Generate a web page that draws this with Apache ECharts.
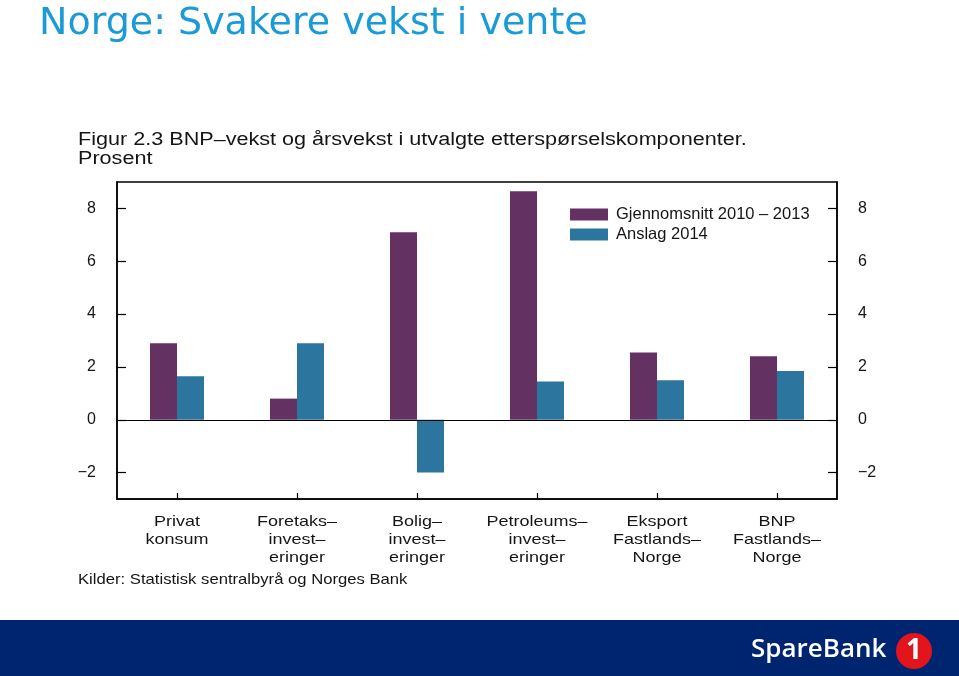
<!DOCTYPE html>
<html>
<head>
<meta charset="utf-8">
<script src="https://cdn.jsdelivr.net/npm/echarts@6/dist/echarts.min.js"></script>
<style>html,body{margin:0;padding:0;background:#fff}#c{width:959px;height:676px}</style>
</head>
<body>
<div id="c"></div>
<script>
const categories = ['Privat\nkonsum', 'Foretaks–\ninvest–\neringer', 'Bolig–\ninvest–\neringer', 'Petroleums–\ninvest–\neringer', 'Eksport\nFastlands–\nNorge', 'BNP\nFastlands–\nNorge'];
const seriesNames = ['Gjennomsnitt 2010 – 2013', 'Anslag 2014'];
const avg2010_2013 = [2.9, 0.8, 7.1, 8.65, 2.55, 2.4];
const forecast2014 = [1.65, 2.9, -2.0, 1.45, 1.5, 1.85];
const yTicks = [-2, 0, 2, 4, 6, 8];

const chart = echarts.init(document.getElementById('c'));
const fmt = v => (v < 0 ? '−' + Math.abs(v) : String(v));
const FONT = '"Liberation Sans", Arial, sans-serif';
const TXT = '#151515';
const yAxisCommon = {
  type: 'value', min: -3, max: 9,
  splitLine: { show: false },
  axisLine: { show: true, lineStyle: { color: '#000', width: 1.5 } },
  axisTick: { show: true, inside: true, length: 9, customValues: yTicks, lineStyle: { color: '#000', width: 1.2 } },
  axisLabel: { customValues: yTicks, formatter: fmt, fontFamily: FONT, fontSize: 16, color: TXT, margin: 21 }
};
chart.setOption({
  animation: false,
  legend: {
    data: seriesNames, orient: 'vertical', left: 570, top: 206, padding: 0,
    itemWidth: 38, itemHeight: 12, itemGap: 3, icon: 'rect',
    textStyle: { fontFamily: FONT, fontSize: 16.5, color: TXT, padding: [0, 0, 0, 3] }
  },
  grid: { left: 117, right: 122, top: 182, bottom: 177, show: true, borderColor: '#000', borderWidth: 1.5, backgroundColor: 'transparent' },
  xAxis: {
    type: 'category', data: categories, position: 'bottom',
    axisLine: { show: true, onZero: false, lineStyle: { color: '#000', width: 1.5 } },
    axisTick: { show: true, inside: true, length: 6, alignWithLabel: true, lineStyle: { color: '#000', width: 1.2 } },
    axisLabel: { show: false }
  },
  yAxis: [
    Object.assign({}, yAxisCommon, { position: 'left' }),
    Object.assign({}, yAxisCommon, { position: 'right' })
  ],
  series: [
    { name: seriesNames[0], type: 'bar', data: avg2010_2013, barWidth: 27, barGap: '0%',
      itemStyle: { color: '#633262' },
      markLine: { silent: true, symbol: 'none', label: { show: false },
        lineStyle: { color: '#000', width: 1.2, type: 'solid' }, data: [{ yAxis: 0 }] } },
    { name: seriesNames[1], type: 'bar', data: forecast2014, barWidth: 27, barGap: '0%',
      itemStyle: { color: '#2c759f' } }
  ]
});

// category labels placed via the axis scale (stretched horizontally like the scanned figure)
const axisBottomY = chart.convertToPixel({ yAxisIndex: 0 }, -3);
const catLabels = categories.map((c, i) => ({
  type: 'text', x: chart.convertToPixel({ xAxisIndex: 0 }, i), y: axisBottomY + 14,
  scaleX: 1.2, originX: 0,
  style: { text: c, align: 'center', verticalAlign: 'top', font: '15px "Liberation Sans", Arial, sans-serif', lineHeight: 18, fill: TXT }
}));

chart.setOption({
  graphic: [
    { type: 'text', x: 39, y: 5, style: { text: 'Norge: Svakere vekst i vente', fill: '#1a9bd7', font: '38px "DejaVu Sans", Verdana, sans-serif', verticalAlign: 'top' } },
    { type: 'text', x: 78, y: 131, scaleX: 1.2, originX: 0,
      style: { text: 'Figur 2.3 BNP–vekst og årsvekst i utvalgte etterspørselskomponenter.\nProsent', fill: TXT, font: '18px "Liberation Sans", Arial, sans-serif', lineHeight: 19, verticalAlign: 'top' } },
    { type: 'text', x: 78, y: 572, scaleX: 1.11, originX: 0,
      style: { text: 'Kilder: Statistisk sentralbyrå og Norges Bank', fill: TXT, font: '15px "Liberation Sans", Arial, sans-serif', verticalAlign: 'top' } },
    ...catLabels,
    { type: 'rect', x: 0, y: 620, shape: { width: 959, height: 56 }, style: { fill: '#002570' }, z: 10 },
    { type: 'text', x: 751, y: 637, style: { text: 'SpareBank', fill: '#fff', font: '600 26px "Open Sans", sans-serif', verticalAlign: 'top' }, z: 11 },
    { type: 'circle', shape: { cx: 914, cy: 651, r: 18 }, style: { fill: '#e2141c' }, z: 11 },
    { type: 'text', x: 914, y: 651, style: { text: '1', fill: '#fff', font: 'bold 28px "Open Sans", sans-serif', align: 'center', verticalAlign: 'middle' }, z: 12 }
  ]
});
</script>
</body>
</html>
